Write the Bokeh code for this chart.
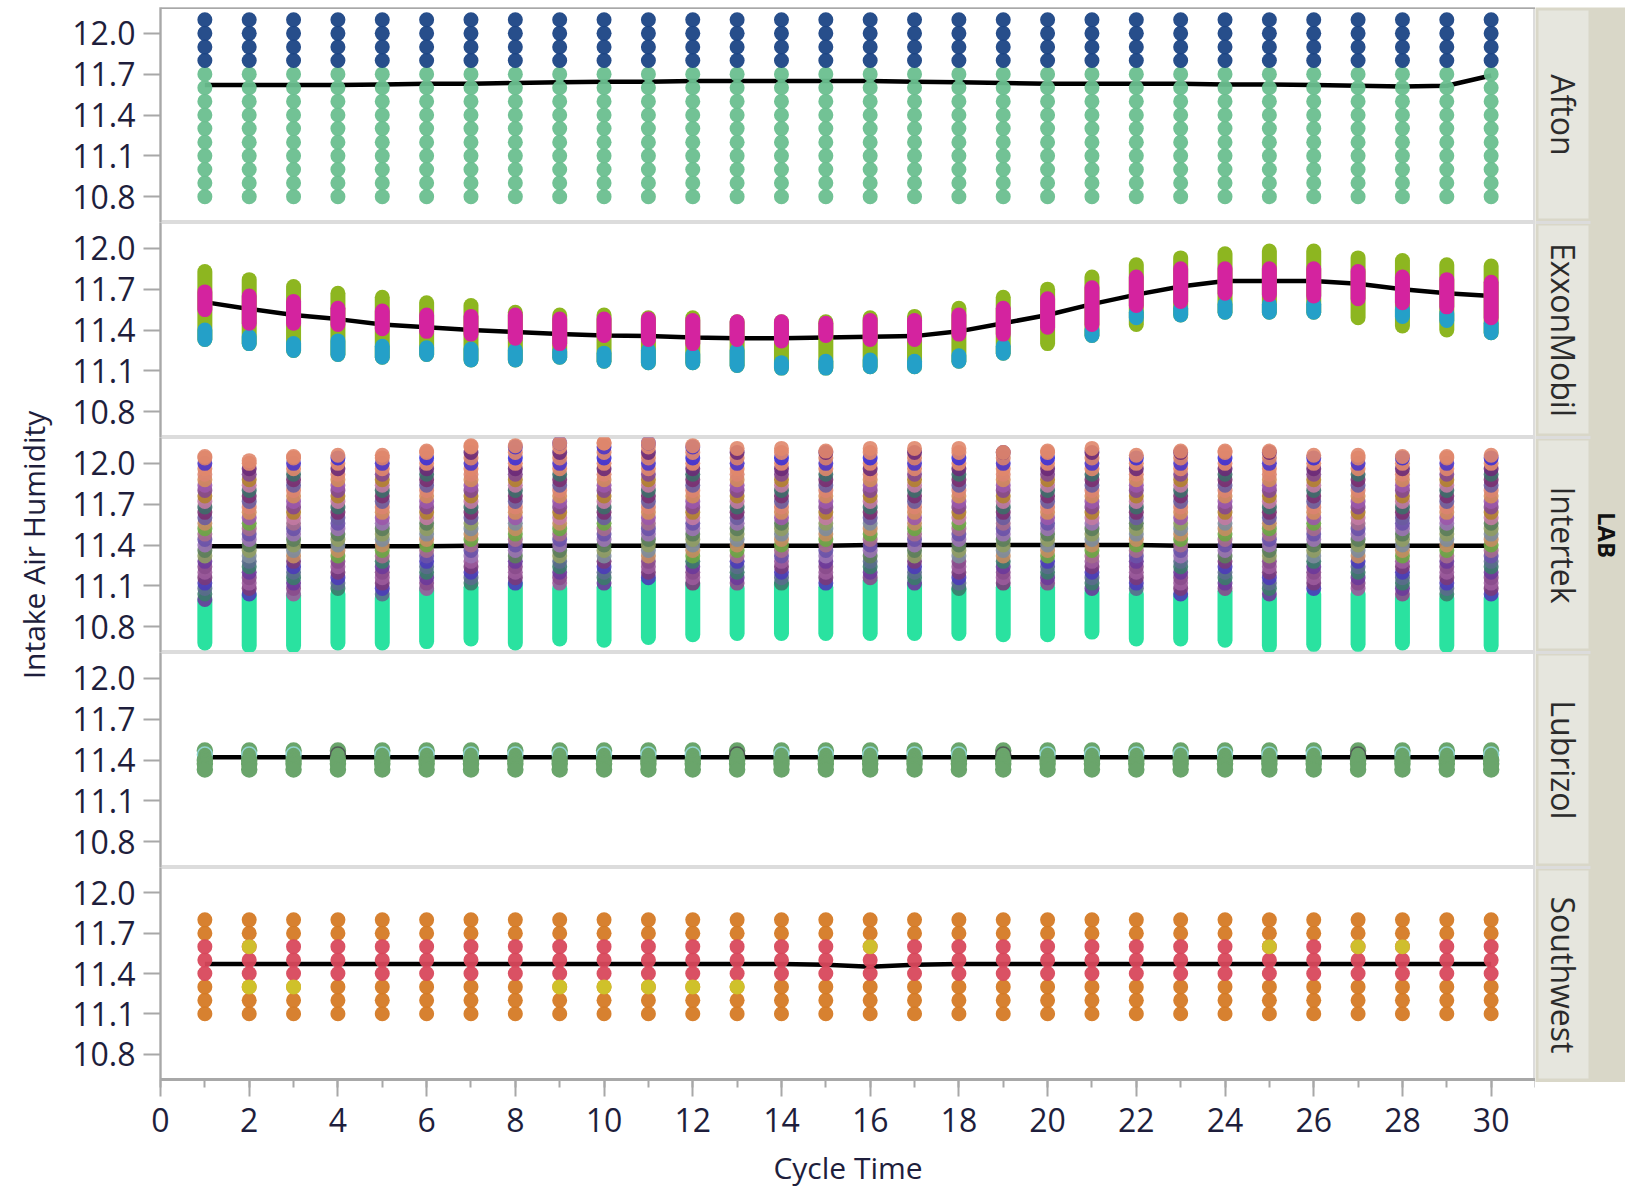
import numpy as np
from bokeh.plotting import figure
from bokeh.layouts import row, column, Spacer
from bokeh.models import (Range1d, FixedTicker, SingleIntervalTicker, NumeralTickFormatter,
                          Span)
from bokeh.core.properties import value
from bokeh.embed import file_html
from bokeh.resources import INLINE

# ---------------- data ----------------
CYCLES = list(range(1, 31))
LABS = ["Afton", "ExxonMobil", "Intertek", "Lubrizol", "Southwest"]
Y_TICKS = [10.8, 11.1, 11.4, 11.7, 12.0]

# Afton: discrete humidity levels present at every cycle
AFTON_BLUE_LEVELS = [11.8, 11.9, 12.0, 12.1]
AFTON_GREEN_LEVELS = [10.8, 10.9, 11.0, 11.1, 11.2, 11.3, 11.4, 11.5, 11.6, 11.7]
AFTON_LINE = [11.62, 11.62, 11.62, 11.62, 11.625, 11.63, 11.63, 11.635, 11.64, 11.645,
              11.645, 11.65, 11.65, 11.65, 11.65, 11.65, 11.645, 11.64, 11.635, 11.63,
              11.63, 11.63, 11.63, 11.625, 11.625, 11.62, 11.615, 11.61, 11.615, 11.69]

# ExxonMobil: per-cycle extent of the point column and its colour bands
EXXON_HI = [11.83, 11.77, 11.72, 11.67, 11.64, 11.60, 11.58, 11.53, 11.51, 11.51,
            11.49, 11.49, 11.46, 11.46, 11.46, 11.49, 11.50, 11.56, 11.64, 11.70,
            11.79, 11.88, 11.93, 11.96, 11.98, 11.98, 11.93, 11.91, 11.88, 11.87]
EXXON_LO = [11.33, 11.30, 11.25, 11.22, 11.20, 11.22, 11.18, 11.18, 11.20, 11.17,
            11.16, 11.16, 11.14, 11.12, 11.12, 11.13, 11.13, 11.17, 11.23, 11.30,
            11.36, 11.44, 11.51, 11.53, 11.53, 11.53, 11.49, 11.43, 11.40, 11.38]
EXXON_MAG_HI = [11.68, 11.65, 11.61, 11.56, 11.54, 11.51, 11.50, 11.51, 11.48, 11.48,
                11.48, 11.47, 11.46, 11.46, 11.45, 11.47, 11.47, 11.51, 11.56, 11.63,
                11.71, 11.79, 11.85, 11.85, 11.85, 11.85, 11.83, 11.79, 11.77, 11.75]
EXXON_MAG_LO = [11.55, 11.45, 11.45, 11.44, 11.41, 11.39, 11.37, 11.34, 11.30, 11.36,
                11.33, 11.30, 11.33, 11.32, 11.36, 11.33, 11.33, 11.37, 11.37, 11.42,
                11.44, 11.58, 11.61, 11.67, 11.66, 11.65, 11.63, 11.60, 11.57, 11.49]
EXXON_BLUE_HI = [11.40, 11.35, 11.30, 11.32, 11.28, 11.27, 11.26, 11.25, 11.24, 11.23,
                 11.25, 11.22, 11.25, 11.16, 11.17, 11.18, 11.17, 11.21, 11.28, None,
                 11.40, 11.53, 11.56, 11.59, 11.59, 11.59, None, 11.55, 11.52, 11.45]
EXXON_BLUE_LO = [11.33, 11.30, 11.25, 11.22, 11.20, 11.22, 11.18, 11.18, 11.20, 11.17,
                 11.16, 11.16, 11.14, 11.12, 11.12, 11.13, 11.13, 11.17, 11.23, None,
                 11.36, 11.49, 11.51, 11.53, 11.53, 11.53, None, 11.50, 11.47, 11.38]
EXXON_LINE = [11.605, 11.555, 11.51, 11.48, 11.44, 11.42, 11.40, 11.385, 11.37, 11.36,
              11.355, 11.345, 11.34, 11.34, 11.345, 11.35, 11.355, 11.39, 11.45, 11.51,
              11.59, 11.66, 11.72, 11.76, 11.76, 11.76, 11.74, 11.70, 11.67, 11.65]

# Intertek: many overlapping runs
INTERTEK_TOP = [12.05, 12.02, 12.05, 12.06, 12.06, 12.09, 12.13, 12.13, 12.15, 12.15,
                12.15, 12.13, 12.11, 12.11, 12.09, 12.11, 12.11, 12.11, 12.08, 12.09,
                12.11, 12.06, 12.09, 12.09, 12.09, 12.06, 12.06, 12.05, 12.05, 12.06]
INTERTEK_BOTTOM = [10.68, 10.66, 10.66, 10.68, 10.68, 10.69, 10.71, 10.68, 10.71, 10.70,
                   10.72, 10.74, 10.75, 10.75, 10.75, 10.75, 10.75, 10.75, 10.74, 10.74,
                   10.76, 10.71, 10.71, 10.70, 10.66, 10.67, 10.67, 10.68, 10.66, 10.66]
INTERTEK_GREEN_TOP = [10.99, 11.03, 11.03, 11.04, 11.01, 11.07, 11.09, 11.11, 11.08, 11.09,
                      11.14, 11.11, 11.08, 11.11, 11.09, 11.14, 11.11, 11.075, 11.09, 11.09,
                      11.05, 11.04, 11.025, 11.06, 11.01, 11.04, 11.04, 11.01, 11.01, 11.01]
INTERTEK_LEVELS = [11.00, 11.04, 11.08, 11.12, 11.16, 11.20, 11.24, 11.28, 11.32, 11.36,
                   11.40, 11.44, 11.48, 11.52, 11.56, 11.60, 11.64, 11.68, 11.72, 11.76,
                   11.80, 11.84, 11.88, 11.92, 11.96, 12.00, 12.04, 12.08, 12.12, 12.15]
INTERTEK_LINE = [11.39, 11.39, 11.39, 11.39, 11.39, 11.39, 11.395, 11.395, 11.395, 11.395,
                 11.395, 11.395, 11.395, 11.395, 11.395, 11.40, 11.40, 11.40, 11.40, 11.40,
                 11.40, 11.40, 11.395, 11.395, 11.395, 11.395, 11.395, 11.395, 11.395, 11.395]

# Lubrizol (levels listed top to bottom)
LUB_LEVELS = [11.47, 11.44, 11.40, 11.37, 11.33]
LUB_DARK_CYCLES = [4, 13, 19, 27]
LUB_LINE = [11.42] * 30

# Southwest
SW_ORANGE_LEVELS = [11.1, 11.2, 11.3, 11.7, 11.8]
SW_RED_LEVELS = [11.4, 11.5, 11.6]
SW_YELLOW_X = [2, 2, 3, 9, 10, 11, 12, 13, 16, 25, 27, 28]
SW_YELLOW_Y = [11.6, 11.3, 11.3, 11.3, 11.3, 11.3, 11.3, 11.3, 11.6, 11.6, 11.6, 11.6]
SW_LINE = [11.47, 11.47, 11.47, 11.47, 11.47, 11.47, 11.47, 11.47, 11.47, 11.47,
           11.47, 11.47, 11.47, 11.47, 11.465, 11.45, 11.465, 11.47, 11.47, 11.47,
           11.47, 11.47, 11.47, 11.47, 11.47, 11.47, 11.47, 11.47, 11.47, 11.47]

# ---------------- style ----------------
FONT = "Open Sans"
TXT = "#1e1e3c"
AXIS_GRAY = "#a8a8a8"
SEP_GRAY = "#dcdcdc"
BEIGE = "#d9d7c8"
BOX = "#e6e6de"
TOP_PAD = 7
PANEL_H = 215
PANEL_W = 1475
LEFT_W = 60
RIGHT_W = 90
AXIS_B = 108
MS = 15
TICK_OUT = 17
LBL_STANDOFF = 8

INT_TOP_PAL = ["#e0876c", "#3b30d6", "#e2896e", "#6c2a78", "#d9826a", "#4a35c8"]
INT_UP_PAL = ["#c27aa2", "#85478f", "#d38b5c", "#6a5c9e", "#3d6e6a", "#b1812e",
              "#9b58aa", "#dc8470", "#7a3070"]
INT_MID_PAL = ["#8f9c62", "#6ba743", "#9a72b2", "#7d8c9c", "#a56b8c", "#5b7d5b",
               "#c48c62", "#6a52a8"]
INT_LOW_PAL = ["#6b3a9a", "#4b3bb8", "#8a4b8c", "#5b6b8c", "#9b5b9b", "#3b7b6b", "#7a3a7a"]

xr = Range1d(0, 31)


def make_panel(last=False):
    p = figure(width=PANEL_W, height=PANEL_H + (AXIS_B if last else 0),
               x_range=xr, y_range=Range1d(10.61, 12.19),
               output_backend="svg", toolbar_location=None,
               x_axis_location="below" if last else None,
               min_border_left=100, min_border_right=0, min_border_top=0,
               min_border_bottom=AXIS_B if last else 0,
               outline_line_color=SEP_GRAY, outline_line_width=3,
               background_fill_color="white", border_fill_color="white")
    p.grid.visible = False
    ax = p.yaxis[0]
    ax.ticker = FixedTicker(ticks=Y_TICKS, minor_ticks=[])
    ax.formatter = NumeralTickFormatter(format="0.0")
    ax.major_label_text_font = FONT
    ax.major_label_text_font_size = "32px"
    ax.major_label_text_color = TXT
    ax.axis_line_color = AXIS_GRAY
    ax.axis_line_width = 2
    ax.major_tick_line_color = AXIS_GRAY
    ax.major_tick_line_width = 2
    ax.major_tick_out = TICK_OUT
    ax.major_tick_in = 0
    ax.minor_tick_out = 0
    ax.major_label_standoff = LBL_STANDOFF
    if last:
        xa = p.xaxis[0]
        xa.ticker = SingleIntervalTicker(interval=2, num_minor_ticks=2)
        xa.major_label_text_font = FONT
        xa.major_label_text_font_size = "32px"
        xa.major_label_text_color = TXT
        xa.axis_line_color = AXIS_GRAY
        xa.axis_line_width = 3
        xa.major_tick_line_color = AXIS_GRAY
        xa.major_tick_line_width = 2
        xa.minor_tick_line_color = AXIS_GRAY
        xa.minor_tick_line_width = 2
        xa.major_tick_out = TICK_OUT
        xa.major_tick_in = 0
        xa.minor_tick_out = 8
        xa.minor_tick_in = 0
        xa.major_label_standoff = 11
        xa.axis_label = "Cycle Time"
        xa.axis_label_text_font = FONT
        xa.axis_label_text_font_size = "30px"
        xa.axis_label_text_font_style = "normal"
        xa.axis_label_text_color = TXT
        xa.axis_label_standoff = 12
    return p


def line(p, ys):
    p.line(CYCLES, ys, line_color="black", line_width=4.5)


# ---- Afton ----
p1 = make_panel()
p1.add_layout(Span(location=12.19, dimension="width", line_color=AXIS_GRAY, line_width=3))
line(p1, AFTON_LINE)
xs, ys = [], []
for c in CYCLES:
    for v in AFTON_GREEN_LEVELS:
        xs.append(c); ys.append(v)
p1.scatter(xs, ys, size=MS, fill_color="#6abf8f", line_color=None, fill_alpha=0.95)
xs, ys = [], []
for c in CYCLES:
    for v in AFTON_BLUE_LEVELS:
        xs.append(c); ys.append(v)
p1.scatter(xs, ys, size=MS, fill_color="#1b4585", line_color=None, fill_alpha=0.95)

# ---- ExxonMobil ----
p2 = make_panel()
line(p2, EXXON_LINE)
p2.segment(x0=CYCLES, y0=EXXON_LO, x1=CYCLES, y1=EXXON_HI, line_width=MS,
           line_cap="round", line_color="#8db620")
bx = [c for c, b in zip(CYCLES, EXXON_BLUE_HI) if b is not None]
bhi = [b for b in EXXON_BLUE_HI if b is not None]
blo = [b for b in EXXON_BLUE_LO if b is not None]
p2.segment(x0=bx, y0=blo, x1=bx, y1=bhi, line_width=MS, line_cap="round",
           line_color="#24a0c8")
p2.segment(x0=CYCLES, y0=EXXON_MAG_LO, x1=CYCLES, y1=EXXON_MAG_HI, line_width=MS,
           line_cap="round", line_color="#d4239f")

# ---- Intertek ----
p3 = make_panel()
line(p3, INTERTEK_LINE)
p3.segment(x0=CYCLES, y0=INTERTEK_BOTTOM, x1=CYCLES, y1=INTERTEK_GREEN_TOP,
           line_width=MS, line_cap="round", line_color="#2ae2a0")
xs, ys, cs = [], [], []
for ci, c in enumerate(CYCLES):
    for i, v in enumerate(INTERTEK_LEVELS):
        if v <= INTERTEK_GREEN_TOP[ci] or v > INTERTEK_TOP[ci]:
            continue
        if v >= 11.95:
            pal = INT_TOP_PAL
        elif v >= 11.6:
            pal = INT_UP_PAL
        elif v >= 11.3:
            pal = INT_MID_PAL
        else:
            pal = INT_LOW_PAL
        xs.append(c); ys.append(v); cs.append(pal[(i * 5 + ci * 3) % len(pal)])
    xs.append(c); ys.append(INTERTEK_TOP[ci]); cs.append("#e0876c")
p3.scatter(xs, ys, size=MS, fill_color=cs, line_color=None, fill_alpha=0.9)

# ---- Lubrizol ----
p4 = make_panel()
line(p4, LUB_LINE)
xs, ys, edge = [], [], []
for lv in LUB_LEVELS:
    for c in CYCLES:
        xs.append(c); ys.append(lv)
        if lv == LUB_LEVELS[1]:
            edge.append("#505a55" if c in LUB_DARK_CYCLES else "#8fd3d0")
        else:
            edge.append("#6aa56b")
p4.scatter(xs, ys, size=MS, fill_color="#6aa56b", line_color=edge, line_width=1.5,
           fill_alpha=1.0)

# ---- Southwest ----
p5 = make_panel(last=True)
line(p5, SW_LINE)
xs, ys = [], []
for c in CYCLES:
    for v in SW_ORANGE_LEVELS:
        xs.append(c); ys.append(v)
p5.scatter(xs, ys, size=MS, fill_color="#d57a25", line_color=None, fill_alpha=0.95)
xs, ys = [], []
for c in CYCLES:
    for v in SW_RED_LEVELS:
        xs.append(c); ys.append(v)
p5.scatter(xs, ys, size=MS, fill_color="#d8485c", line_color=None, fill_alpha=0.95)
p5.scatter(SW_YELLOW_X, SW_YELLOW_Y, size=MS, fill_color="#cfc42a", line_color=None,
           fill_alpha=0.95)

panels = [p1, p2, p3, p4, p5]
TOTAL_H = 5 * PANEL_H

# ---- left: y-axis title ----
lf = figure(width=LEFT_W, height=TOTAL_H, x_range=Range1d(0, LEFT_W),
            y_range=Range1d(TOTAL_H, 0), x_axis_location=None, y_axis_location=None,
            outline_line_color=None, min_border=0, toolbar_location=None,
            output_backend="svg")
lf.grid.visible = False
lf.text(x=[33], y=[TOTAL_H / 2], text=["Intake Air Humidity"], angle=np.pi / 2,
        text_align="center", text_baseline="middle", text_font=value(FONT),
        text_font_size="30px", text_color=TXT)

# ---- right: strip labels ----
rf = figure(width=RIGHT_W, height=TOTAL_H, x_range=Range1d(0, RIGHT_W),
            y_range=Range1d(TOTAL_H, 0), x_axis_location=None, y_axis_location=None,
            outline_line_color=None, min_border=0, toolbar_location=None,
            output_backend="svg", background_fill_color=BEIGE, border_fill_color=BEIGE)
rf.grid.visible = False
tops = [k * PANEL_H for k in range(5)]
rf.quad(left=3, right=53, top=[t + 3 for t in tops], bottom=[t + PANEL_H - 4 for t in tops],
        fill_color=BOX, line_color=None)
seps = [t for t in tops[1:]]
rf.segment(x0=[0] * len(seps), x1=[55] * len(seps), y0=seps, y1=seps,
           line_color=SEP_GRAY, line_width=3)
rf.text(x=[28] * 5, y=[t + PANEL_H / 2 for t in tops], text=LABS, angle=-np.pi / 2,
        text_align="center", text_baseline="middle", text_font=value(FONT),
        text_font_size="32px", text_color="#2b2b2b")
rf.text(x=[72], y=[TOTAL_H / 2 - 10], text=["LAB"], angle=-np.pi / 2, text_align="center",
        text_baseline="middle", text_font=value(FONT), text_font_size="24px",
        text_font_style="bold", text_color="#111111")

layout = column(Spacer(height=TOP_PAD),
                row(lf, column(*panels, spacing=0), rf, spacing=0),
                spacing=0)
open("out.html", "w").write(file_html(layout, INLINE))
